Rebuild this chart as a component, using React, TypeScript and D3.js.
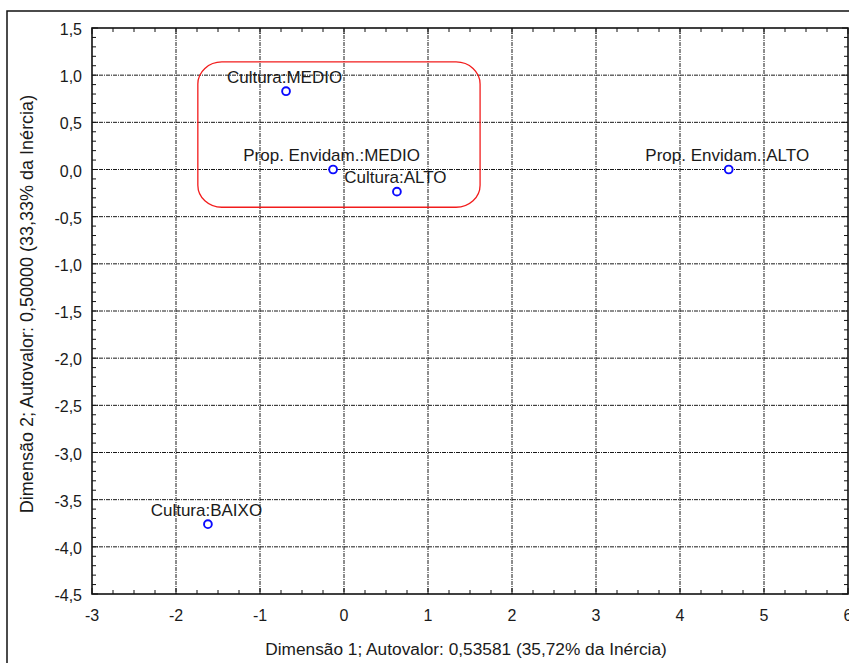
import React from "react";
import * as d3 from "d3";

// Coordenadas das categorias (análise de correspondência)
const pointLabels = [
  "Cultura:MEDIO",
  "Prop. Envidam.:MEDIO",
  "Cultura:ALTO",
  "Prop. Envidam.:ALTO",
  "Cultura:BAIXO",
];
const dim1Values = [-0.69, -0.13, 0.63, 4.58, -1.62];
const dim2Values = [0.83, 0.0, -0.235, 0.0, -3.76];

const xTickValues = [-3, -2, -1, 0, 1, 2, 3, 4, 5, 6];
const yTickValues = [1.5, 1.0, 0.5, 0.0, -0.5, -1.0, -1.5, -2.0, -2.5, -3.0, -3.5, -4.0, -4.5];

// Região destacada (em unidades das dimensões)
const highlightX = [-1.74, 1.62];
const highlightY = [1.14, -0.4];

const xTitle = "Dimensão 1; Autovalor: 0,53581 (35,72% da Inércia)";
const yTitle = "Dimensão 2; Autovalor: 0,50000 (33,33% da Inércia)";

const W = 849;
const H = 663;
const plot = { left: 92, right: 848, top: 28, bottom: 594 };
const FONT = "'Liberation Sans', Arial, sans-serif";

export default function App() {
  const x = d3.scaleLinear().domain([-3, 6]).range([plot.left, plot.right]);
  const y = d3.scaleLinear().domain([-4.5, 1.5]).range([plot.bottom, plot.top]);

  const fmtY = (v: number) => d3.format(".1f")(v).replace(".", ",").replace("−", "-");
  const fmtX = (v: number) => String(v);

  const xMinor = d3.range(-3, 6.0001, 0.25);
  const yMinor = d3.range(-4.5, 1.5001, 0.1);
  const gridX = xTickValues.filter((v) => v > -3 && v < 6);
  const gridY = yTickValues.filter((v) => v > -4.5 && v < 1.5);

  const hx0 = x(highlightX[0]);
  const hx1 = x(highlightX[1]);
  const hy0 = y(highlightY[0]);
  const hy1 = y(highlightY[1]);

  return (
    <svg
      width={W}
      height={H}
      style={{ position: "absolute", left: 0, top: 0, background: "#fff" }}
      fontFamily={FONT}
    >
      <rect x={0} y={0} width={W} height={H} fill="#fff" />
      {/* moldura externa */}
      <rect x={7} y={11} width={W + 20} height={H + 20} fill="none" stroke="#111" strokeWidth={1.5} />

      {/* grade */}
      <g stroke="#1a1a1a" strokeWidth={1} strokeDasharray="4 1 1 1">
        {gridX.map((v) => (
          <line key={"gx" + v} x1={x(v)} x2={x(v)} y1={plot.top} y2={plot.bottom} />
        ))}
        {gridY.map((v) => (
          <line key={"gy" + v} x1={plot.left} x2={plot.right} y1={y(v)} y2={y(v)} />
        ))}
      </g>

      {/* marcas secundárias */}
      <g stroke="#111" strokeWidth={1}>
        {xMinor.map((v, i) => {
          const major = Math.abs(v - Math.round(v)) < 1e-6;
          const len = major ? 6 : 4;
          return (
            <g key={"xm" + i}>
              <line x1={x(v)} x2={x(v)} y1={plot.bottom} y2={plot.bottom - len} />
              <line x1={x(v)} x2={x(v)} y1={plot.top} y2={plot.top + len} />
            </g>
          );
        })}
        {yMinor.map((v, i) => {
          const major = Math.abs(v * 2 - Math.round(v * 2)) < 1e-6;
          const len = major ? 6 : 4;
          return (
            <g key={"ym" + i}>
              <line x1={plot.left} x2={plot.left + len} y1={y(v)} y2={y(v)} />
              <line x1={plot.right} x2={plot.right - len} y1={y(v)} y2={y(v)} />
            </g>
          );
        })}
      </g>

      {/* área do gráfico */}
      <rect
        x={plot.left}
        y={plot.top}
        width={plot.right - plot.left}
        height={plot.bottom - plot.top}
        fill="none"
        stroke="#111"
        strokeWidth={1.6}
      />

      {/* rótulos dos eixos */}
      <g fontSize={16} fill="#1a1a1a">
        {xTickValues.map((v) => (
          <text key={"xt" + v} x={x(v)} y={621} textAnchor="middle">
            {fmtX(v)}
          </text>
        ))}
        {yTickValues.map((v) => (
          <text key={"yt" + v} x={plot.left - 10} y={y(v) + 7} textAnchor="end">
            {fmtY(v)}
          </text>
        ))}
      </g>

      <text x={466} y={655} textAnchor="middle" fontSize={17.3} fill="#1a1a1a">
        {xTitle}
      </text>
      <text
        transform={`translate(33, 304) rotate(-90)`}
        textAnchor="middle"
        fontSize={18}
        fill="#1a1a1a"
      >
        {yTitle}
      </text>

      {/* destaque */}
      <rect
        x={hx0}
        y={hy0}
        width={hx1 - hx0}
        height={hy1 - hy0}
        rx={24}
        ry={22}
        fill="none"
        stroke="#f21c1c"
        strokeWidth={1.3}
      />

      {/* pontos e rótulos */}
      {pointLabels.map((lab, i) => {
        const cx = x(dim1Values[i]);
        const cy = y(dim2Values[i]);
        return (
          <g key={lab}>
            <text x={cx - 1.5} y={cy - 8.5} textAnchor="middle" fontSize={17} fill="#1a1a1a">
              {lab}
            </text>
            <circle cx={cx} cy={cy} r={3.9} fill="#fff" stroke="#0a0aff" strokeWidth={1.9} />
          </g>
        );
      })}
    </svg>
  );
}
